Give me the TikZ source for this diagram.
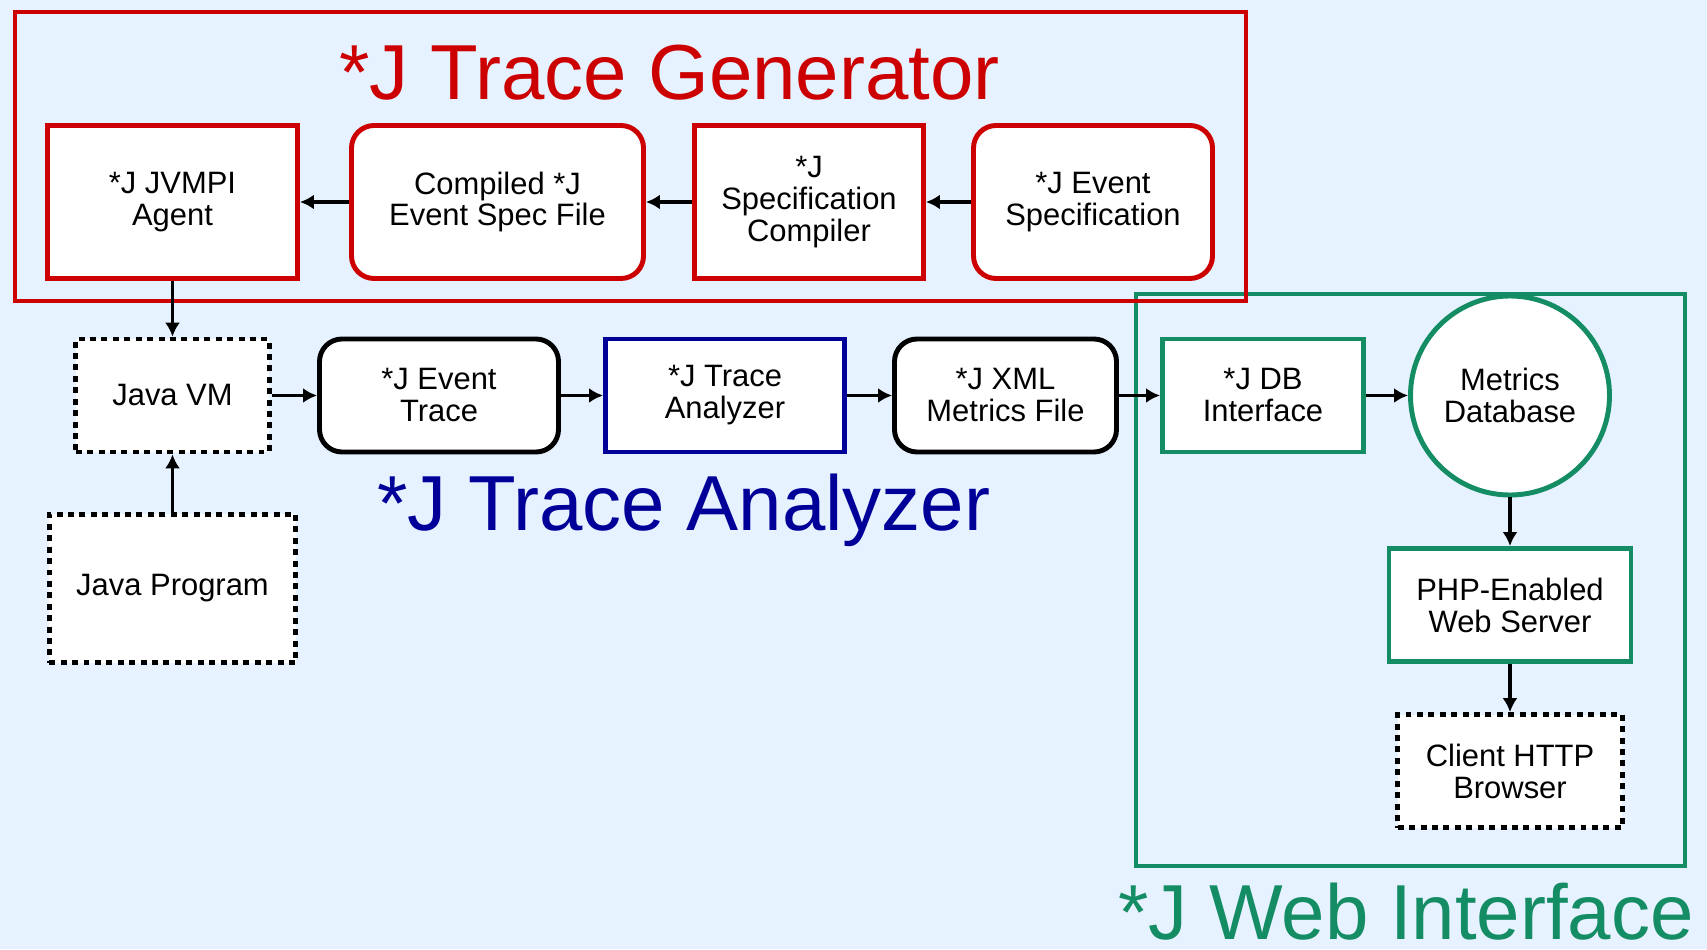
\documentclass[tikz,border=0pt]{standalone}
\usepackage{fontspec}
\setmainfont{Liberation Sans}
\usepackage{tikz}
\usetikzlibrary{arrows.meta}
\definecolor{jred}{RGB}{204,0,0}
\definecolor{jblue}{RGB}{0,0,153}
\definecolor{jgreen}{RGB}{20,140,100}
\definecolor{jback}{RGB}{230,242,255}
\newcommand{\boxtext}{\fontsize{17.6}{18.2}\selectfont}
\newcommand{\titletext}{\fontsize{44.4}{46}\selectfont}
\tikzset{
  >={Latex[length=0.28cm,width=0.3cm]},
}
\tikzstyle{block}=[draw,fill=white,line width=2.8pt,align=center,inner sep=2pt,font=\boxtext]
\tikzstyle{rowone}=[block,minimum height=3.06cm]
\tikzstyle{rowtwo}=[block,minimum height=2.26cm]
\tikzstyle{rounded}=[rounded corners=0.45cm]
\tikzstyle{external}=[dash pattern=on 3.4pt off 3.1pt,line width=2.7pt]
\tikzstyle{flow}=[->,line width=1.8pt]
\tikzstyle{frame}=[line width=2.2pt]
\tikzstyle{title}=[font=\titletext,anchor=base,inner sep=0pt]

\begin{document}
\begin{tikzpicture}
    \fill[jback] (0,0) rectangle (34.14,18.98);
    \useasboundingbox (0,0) rectangle (34.14,18.98);
    % the three groups
    \draw[frame,jgreen] (22.72,13.10) rectangle (33.70,1.66);
    \draw[frame,jred] (0.30,18.74) rectangle (24.92,12.96);
    \node[title,jred] (gentitle) at (13.39,16.98) {*J Trace Generator};
    \node[title,jblue] (anatitle) at (13.68,8.38) {*J Trace Analyzer};
    \node[title,jgreen] (webtitle) at (28.12,0.2) {*J Web Interface};
    % generator row
    \node[rowone,draw=jred,minimum width=5.00cm] (agent) at (3.45,14.94) {*J JVMPI\\Agent};
    \node[rowone,rounded,draw=jred,minimum width=5.84cm] (specfile) at (9.95,14.94) {Compiled *J\\Event Spec File};
    \node[rowone,draw=jred,minimum width=4.58cm] (compiler) at (16.18,14.94) {*J\\Specification\\Compiler};
    \node[rowone,rounded,draw=jred,minimum width=4.78cm] (eventspec) at (21.86,14.94) {*J Event\\Specification};
    % analyzer row
    \node[rowtwo,external,minimum width=3.87cm] (javavm) at (3.45,11.07) {Java VM};
    \node[rowtwo,rounded,minimum width=4.78cm] (trace) at (8.78,11.07) {*J Event\\Trace};
    \node[rowtwo,draw=jblue,minimum width=4.78cm] (analyzer) at (14.50,11.07) {*J Trace\\Analyzer};
    \node[rowtwo,rounded,minimum width=4.44cm] (xmlfile) at (20.11,11.07) {*J XML\\Metrics File};
    \node[rowtwo,draw=jgreen,minimum width=4.02cm] (dbif) at (25.26,11.07) {*J DB\\Interface};
    \node[block,circle,draw=jgreen,minimum size=3.98cm,inner sep=0pt] (metricsdb) at (30.20,11.07) {Metrics\\Database};
    \node[block,external,minimum width=4.93cm,minimum height=2.97cm] (javaprog) at (3.45,7.21) {Java Program};
    % web row
    \node[rowtwo,draw=jgreen,minimum width=4.84cm] (php) at (30.20,6.88) {PHP-Enabled\\Web Server};
    \node[rowtwo,external,minimum width=4.49cm] (client) at (30.20,3.56) {Client HTTP\\Browser};
    % connections
    \draw[flow] (eventspec) -- (compiler);
    \draw[flow] (compiler) -- (specfile);
    \draw[flow] (specfile) -- (agent);
    \draw[flow] (agent) -- (javavm);
    \draw[flow] (javaprog) -- (javavm);
    \draw[flow] (javavm) -- (trace);
    \draw[flow] (trace) -- (analyzer);
    \draw[flow] (analyzer) -- (xmlfile);
    \draw[flow] (xmlfile) -- (dbif);
    \draw[flow] (dbif) -- (metricsdb);
    \draw[flow] (metricsdb) -- (php);
    \draw[flow] (php) -- (client);
\end{tikzpicture}
\end{document}
